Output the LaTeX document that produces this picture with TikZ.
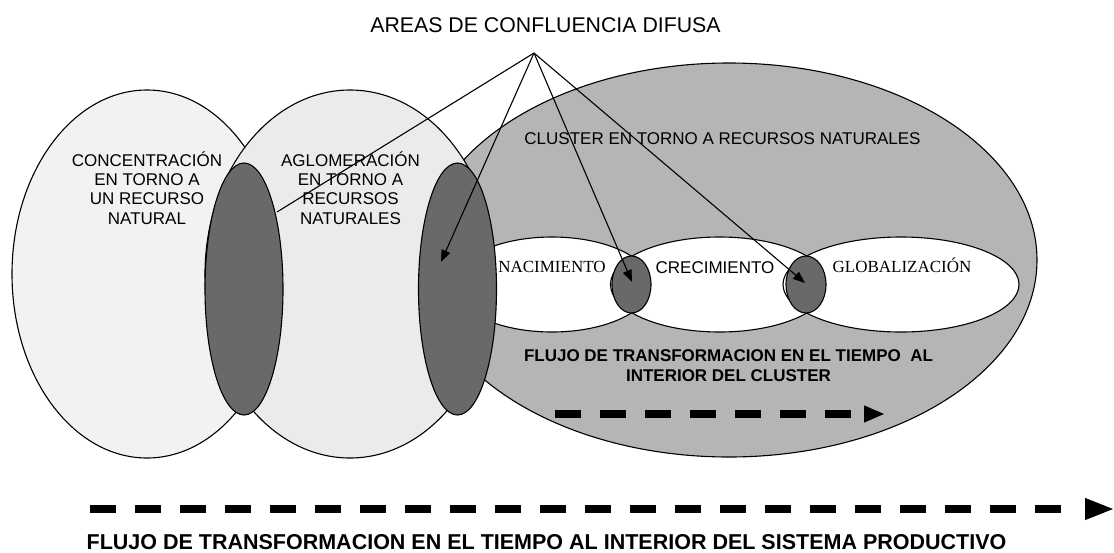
\documentclass[tikz,border=0pt]{standalone}
\usepackage{fontspec}
\setmainfont{Liberation Sans}
\newfontfamily\serifface{Liberation Serif}
\usetikzlibrary{shapes.geometric,arrows.meta}
\definecolor{paleA}{HTML}{F2F2F2}
\definecolor{paleB}{HTML}{EBEBEB}
\definecolor{clus}{HTML}{B5B5B5}
\definecolor{darkz}{HTML}{696969}
\begin{document}
\begin{tikzpicture}[x=1pt,y=-1pt,
  blob/.style={ellipse, draw=black, line width=1.1pt, inner sep=0pt, outer sep=0pt},
  ptr/.style={line width=1.1pt, -{Triangle[length=12pt,width=9pt]}},
  plain/.style={line width=1.1pt},
  flow/.style={line width=7.5pt, dash pattern=on 26pt off 19pt},
  lbl/.style={inner sep=0pt, font=\fontsize{17}{19.4}\selectfont, align=center},
  slbl/.style={inner sep=0pt, anchor=base, font=\serifface\fontsize{17}{19}\selectfont},
  blbl/.style={inner sep=0pt, align=center, font=\bfseries\fontsize{17}{20}\selectfont}]
\useasboundingbox (0,0) rectangle (1114,552);
\fill[white] (0,0) rectangle (1114,552);
% big ellipses
\node[blob, fill=clus, minimum width=616pt, minimum height=394pt] (cl) at (729,260) {};
\node[blob, fill=paleA, minimum width=270pt, minimum height=368pt] (e1) at (147,274) {};
\node[blob, fill=paleB, minimum width=290pt, minimum height=368pt] (e2) at (350,274) {};
% stage ellipses
\node[blob, fill=white, minimum width=198pt, minimum height=95pt] (nac) at (552,284.5) {};
\node[blob, fill=white, minimum width=218pt, minimum height=95pt] (cre) at (719.5,284.5) {};
\node[blob, fill=white, minimum width=236pt, minimum height=95pt] (glo) at (901,284.5) {};
% confluence areas
\node[blob, fill=darkz, minimum width=78pt, minimum height=252pt] (d1) at (244,289) {};
\node[blob, fill=darkz, minimum width=78pt, minimum height=252pt] (d2) at (457.5,289) {};
\node[blob, fill=darkz, minimum width=39pt, minimum height=57pt] (d3) at (631.5,284.5) {};
\node[blob, fill=darkz, minimum width=40pt, minimum height=57pt] (d4) at (806,284.5) {};
% labels
\node[inner sep=0pt, anchor=base, font=\fontsize{21.3}{24}\selectfont] (top) at (545.5,32.5) {AREAS DE CONFLUENCIA DIFUSA};
\node[lbl] (t1) at (147,188) {CONCENTRACIÓN\\EN TORNO A\\UN RECURSO\\NATURAL};
\node[lbl] (t2) at (350.5,188) {AGLOMERACIÓN\\EN TORNO A\\RECURSOS\\NATURALES};
\node[inner sep=0pt, anchor=base, font=\fontsize{17}{19}\selectfont] (tc) at (722.5,144) {CLUSTER EN TORNO A RECURSOS NATURALES};
\node[slbl] (tn) at (552,272.6) {NACIMIENTO};
\node[inner sep=0pt, anchor=base, font=\fontsize{17}{19}\selectfont] (tcr) at (715,273) {CRECIMIENTO};
\node[slbl] (tg) at (902,272.6) {GLOBALIZACIÓN};
\node[blbl] (tf) at (728.5,366) {FLUJO DE TRANSFORMACION EN EL TIEMPO\ \ AL\\INTERIOR DEL CLUSTER};
\node[inner sep=0pt, anchor=base, font=\bfseries\fontsize{21.5}{24}\selectfont] (tb) at (546.5,549.5) {FLUJO DE TRANSFORMACION EN EL TIEMPO AL INTERIOR DEL SISTEMA PRODUCTIVO};
% pointers
\coordinate (apex) at (534,53);
\coordinate (p1) at (277,212);
\coordinate (p2) at (441,262);
\coordinate (p3) at (632,282);
\coordinate (p4) at (805,283);
\draw[plain] (apex) -- (p1);
\draw[ptr] (apex) -- (p2);
\draw[ptr] (apex) -- (p3);
\draw[ptr] (apex) -- (p4);
% dashed flow arrows
\coordinate (cs) at (555,414);
\coordinate (ce) at (851,414);
\coordinate (ch) at (864,414);
\coordinate (ct) at (884,414);
\draw[flow, dash pattern=on 25.5pt off 19.5pt] (cs) -- (ce);
\draw[line width=1pt, -{Triangle[length=20pt,width=17pt]}] (ch) -- (ct);
\coordinate (bs) at (90,509);
\coordinate (be) at (1062,509);
\coordinate (bh) at (1085,509);
\coordinate (bt) at (1113,509);
\draw[flow] (bs) -- (be);
\draw[line width=1pt, -{Triangle[length=28pt,width=22pt]}] (bh) -- (bt);
\end{tikzpicture}
\end{document}
